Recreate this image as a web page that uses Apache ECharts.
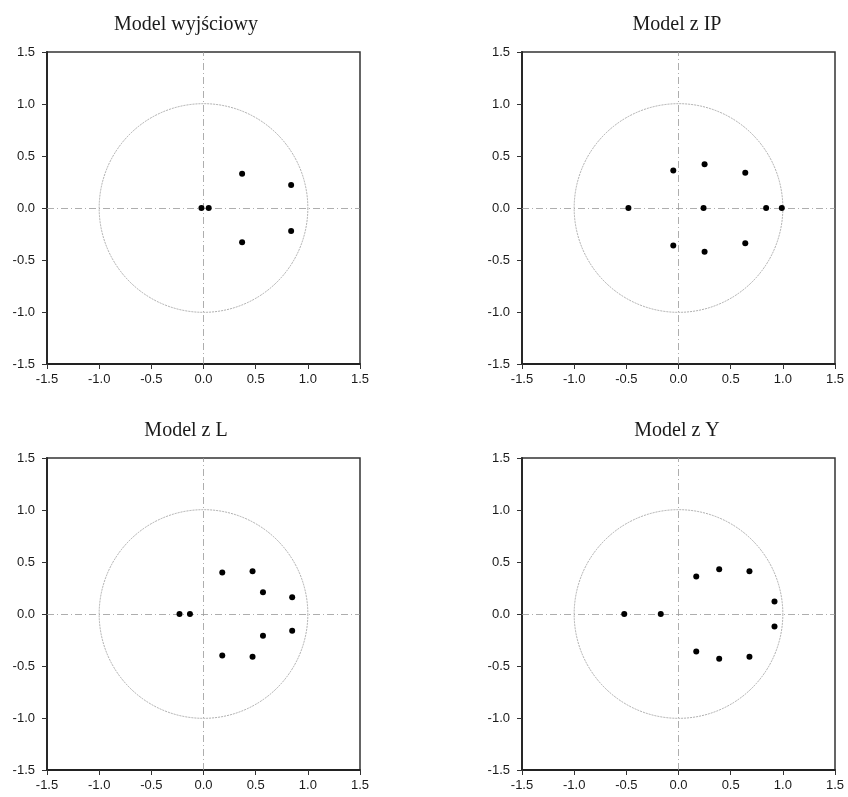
<!DOCTYPE html>
<html>
<head>
<meta charset="utf-8">
<script src="https://cdn.jsdelivr.net/npm/echarts@6/dist/echarts.min.js"></script>
<style>
  html, body { margin: 0; padding: 0; background: #fff; }
  #main { width: 848px; height: 797px; }
</style>
</head>
<body>
<div id="main"></div>
<script>
// pierwiastki wielomianu AR (Re, Im) dla każdego modelu
var rootsBase = [[-0.02, 0], [0.05, 0], [0.37, 0.33], [0.37, -0.33], [0.84, 0.22], [0.84, -0.22]];
var rootsIP = [[-0.48, 0], [-0.05, 0.36], [-0.05, -0.36], [0.25, 0.42], [0.25, -0.42],
  [0.24, 0], [0.64, 0.34], [0.64, -0.34], [0.84, 0], [0.99, 0]];
var rootsL = [[-0.23, 0], [-0.13, 0], [0.18, 0.40], [0.18, -0.40], [0.47, 0.41], [0.47, -0.41],
  [0.57, 0.21], [0.57, -0.21], [0.85, 0.16], [0.85, -0.16]];
var rootsY = [[-0.52, 0], [-0.17, 0], [0.17, 0.36], [0.17, -0.36], [0.39, 0.43], [0.39, -0.43],
  [0.68, 0.41], [0.68, -0.41], [0.92, 0.12], [0.92, -0.12]];

var titles = ['Model wyjściowy', 'Model z IP', 'Model z L', 'Model z Y'];
var roots = [rootsBase, rootsIP, rootsL, rootsY];
var unitRadius = 1;
var axisMin = -1.5, axisMax = 1.5, axisStep = 0.5;

// położenie paneli
var panels = [
  {left: 47, top: 52, titleX: 181, titleY: 10},
  {left: 522, top: 52, titleX: 672, titleY: 10},
  {left: 47, top: 458, titleX: 181, titleY: 416},
  {left: 522, top: 458, titleX: 672, titleY: 416}
];

var myChart = echarts.init(document.getElementById('main'));

var grid = [], xAxis = [], yAxis = [], series = [], title = [];

function makeAxis(i, isX) {
  return {
    type: 'value',
    gridIndex: i,
    min: axisMin,
    max: axisMax,
    interval: axisStep,
    axisLine: {show: true, onZero: false, lineStyle: {color: '#222', width: 1.8}},
    axisTick: {show: true, length: 5, lineStyle: {color: '#333', width: 1}},
    axisLabel: {
      color: '#1a1a1a',
      fontFamily: 'Liberation Sans',
      fontSize: 13,
      margin: isX ? 9 : 12,
      formatter: function (v) { return v.toFixed(1); }
    },
    splitLine: {show: false}
  };
}

panels.forEach(function (p, i) {
  title.push({
    text: titles[i],
    left: p.titleX,
    top: p.titleY,
    textAlign: 'center',
    textStyle: {fontFamily: 'Liberation Serif', fontWeight: 'normal', fontSize: 20, color: '#1a1a1a'}
  });
  grid.push({
    left: p.left, top: p.top, width: 313, height: 312,
    show: true, borderColor: '#333', borderWidth: 1.5, backgroundColor: 'transparent'
  });
  xAxis.push(makeAxis(i, true));
  yAxis.push(makeAxis(i, false));

  // okrąg jednostkowy
  series.push({
    type: 'custom',
    xAxisIndex: i,
    yAxisIndex: i,
    silent: true,
    data: [[0, 0]],
    renderItem: function (params, api) {
      var c = api.coord([api.value(0), api.value(1)]);
      var r = api.size([unitRadius, 0])[0];
      return {
        type: 'circle',
        shape: {cx: c[0], cy: c[1], r: r},
        style: {fill: null, stroke: '#999', lineWidth: 0.8, lineDash: [2, 1]}
      };
    }
  });

  // pierwiastki + osie przez zero
  series.push({
    type: 'scatter',
    xAxisIndex: i,
    yAxisIndex: i,
    data: roots[i],
    symbol: 'circle',
    symbolSize: 6,
    itemStyle: {color: '#000', opacity: 1},
    z: 5,
    markLine: {
      silent: true,
      symbol: 'none',
      label: {show: false},
      lineStyle: {color: '#999', width: 0.8, type: [7, 3, 1, 3]},
      data: [{xAxis: 0}, {yAxis: 0}]
    }
  });
});

var option = {
  backgroundColor: '#fff',
  animation: false,
  title: title,
  grid: grid,
  xAxis: xAxis,
  yAxis: yAxis,
  series: series
};
myChart.setOption(option);
</script>
</body>
</html>
